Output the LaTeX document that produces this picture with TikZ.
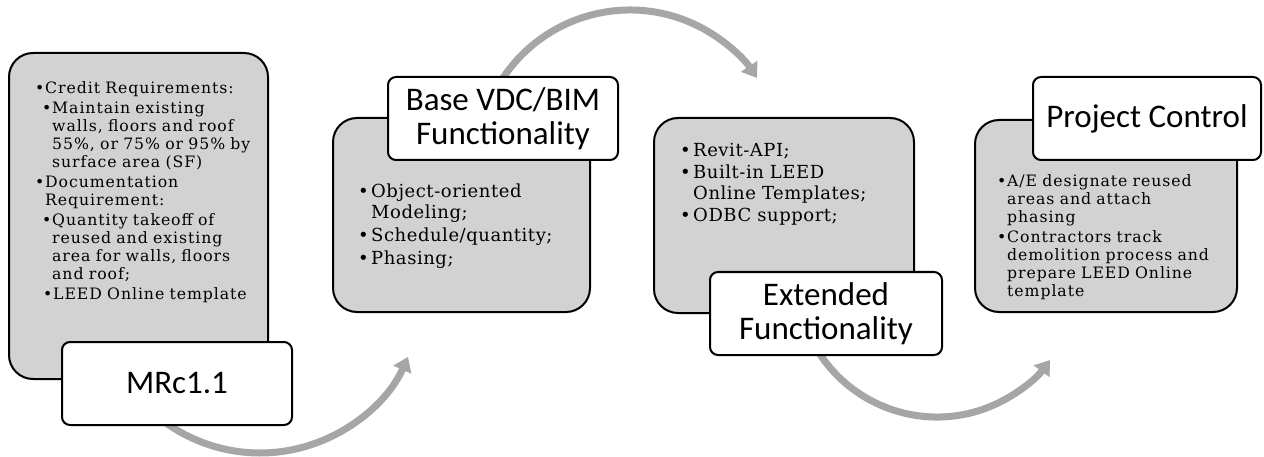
\documentclass[tikz,border=0pt]{standalone}
\usepackage{fontspec}
\setmainfont{DejaVu Serif}
\newfontfamily\lblfont{Carlito}
\newfontfamily\smallbody[LetterSpace=6]{DejaVu Serif}
\newfontfamily\bigbody[LetterSpace=3]{DejaVu Serif}
\usetikzlibrary{arrows.meta,calc}
\definecolor{boxgray}{RGB}{210,210,210}
\definecolor{arcgray}{RGB}{166,166,166}
\newcommand\bitem[3]{\par\leftskip=#1\relax\hangindent=#2\relax\hangafter=1\noindent\makebox[#2][l]{\textbullet}#3}
\tikzset{
  gbox/.style={draw=black, line width=2pt, fill=boxgray, rounded corners=24pt, inner sep=0pt},
  lbox/.style={draw=black, line width=2pt, fill=white, rounded corners=8pt, inner sep=0pt,
    font=\lblfont\fontsize{33}{34}\selectfont, align=center},
  flow/.style={draw=arcgray, line width=7pt, -{Triangle[length=14pt,width=19pt]}},
  txtsmall/.style={anchor=north west, inner sep=0pt, text width=240pt,
    font=\smallbody\fontsize{15.7}{18}\selectfont},
  txtbig/.style={anchor=north west, inner sep=0pt, text width=240pt,
    font=\bigbody\fontsize{18}{21.5}\selectfont},
}
\begin{document}
\begin{tikzpicture}[x=1pt,y=1pt]
\fill[white] (0,0) rectangle (1264,-457);
\useasboundingbox (0,0) rectangle (1264,-457);
% arc centres
\coordinate (c1) at (260,-291);
\coordinate (c2) at (630,-162.6);
\coordinate (c3) at (937,-276.5);
\coordinate (a1s) at ($(c1)+(225:162)$);
\coordinate (a2s) at ($(c2)+(150:152.6)$);
\coordinate (a3s) at ($(c3)+(205:140.5)$);
\draw[flow] (a1s) arc[start angle=225, end angle=336, radius=162];
\draw[flow] (a2s) arc[start angle=150, end angle=33.7, radius=152.6];
\draw[flow] (a3s) arc[start angle=205, end angle=323.5, radius=140.5];
% grey boxes
\node[gbox, minimum width=259pt, minimum height=326pt] (b1) at (138.5,-216) {};
\node[gbox, minimum width=257pt, minimum height=194pt] (b2) at (461.5,-215) {};
\node[gbox, minimum width=260pt, minimum height=195pt] (b3) at (784,-215.5) {};
\node[gbox, minimum width=262pt, minimum height=192pt] (b4) at (1106,-216) {};
% texts
\node[txtsmall] (t1) at (35,-73) {\parskip=2pt\rightskip=0pt plus 1fil
\bitem{0pt}{10pt}{Credit Requirements:}
\bitem{7pt}{10pt}{Maintain existing\newline walls, floors and roof\newline 55\%, or 75\% or 95\% by\newline surface area (SF)}
\bitem{0pt}{10pt}{Documentation\newline Requirement:}
\bitem{7pt}{10pt}{Quantity takeoff of\newline reused and existing\newline area for walls, floors\newline and roof;}
\bitem{8pt}{10pt}{LEED Online template}\par};
\node[txtbig] (t2) at (358,-174) {\parskip=1.5pt\rightskip=0pt plus 1fil
\bitem{0pt}{13pt}{Object-oriented\newline Modeling;}
\bitem{0pt}{13pt}{Schedule/quantity;}
\bitem{0pt}{13pt}{Phasing;}\par};
\node[txtbig] (t3) at (680,-135) {\parskip=0pt\rightskip=0pt plus 1fil
\bitem{0pt}{13pt}{Revit-API;}
\bitem{0pt}{13pt}{Built-in LEED\newline Online Templates;}
\bitem{0pt}{13pt}{ODBC support;}\par};
\node[txtsmall] (t4) at (997,-166) {\parskip=2pt\rightskip=0pt plus 1fil
\bitem{0pt}{10pt}{A/E designate reused\newline areas and attach\newline phasing}
\bitem{0pt}{10pt}{Contractors track\newline demolition process and\newline prepare LEED Online\newline template}\par};
% labels
\node[lbox, minimum width=230pt, minimum height=83pt] (l1) at (177,-383.5) {MRc1.1};
\node[lbox, minimum width=230pt, minimum height=83pt] (l2) at (503,-118.5) {Base VDC/BIM\\Functionality};
\node[lbox, minimum width=232pt, minimum height=83pt] (l3) at (826,-313.5) {Extended\\Functionality};
\node[lbox, minimum width=228pt, minimum height=83pt] (l4) at (1147,-118.5) {Project Control};
\end{tikzpicture}
\end{document}
